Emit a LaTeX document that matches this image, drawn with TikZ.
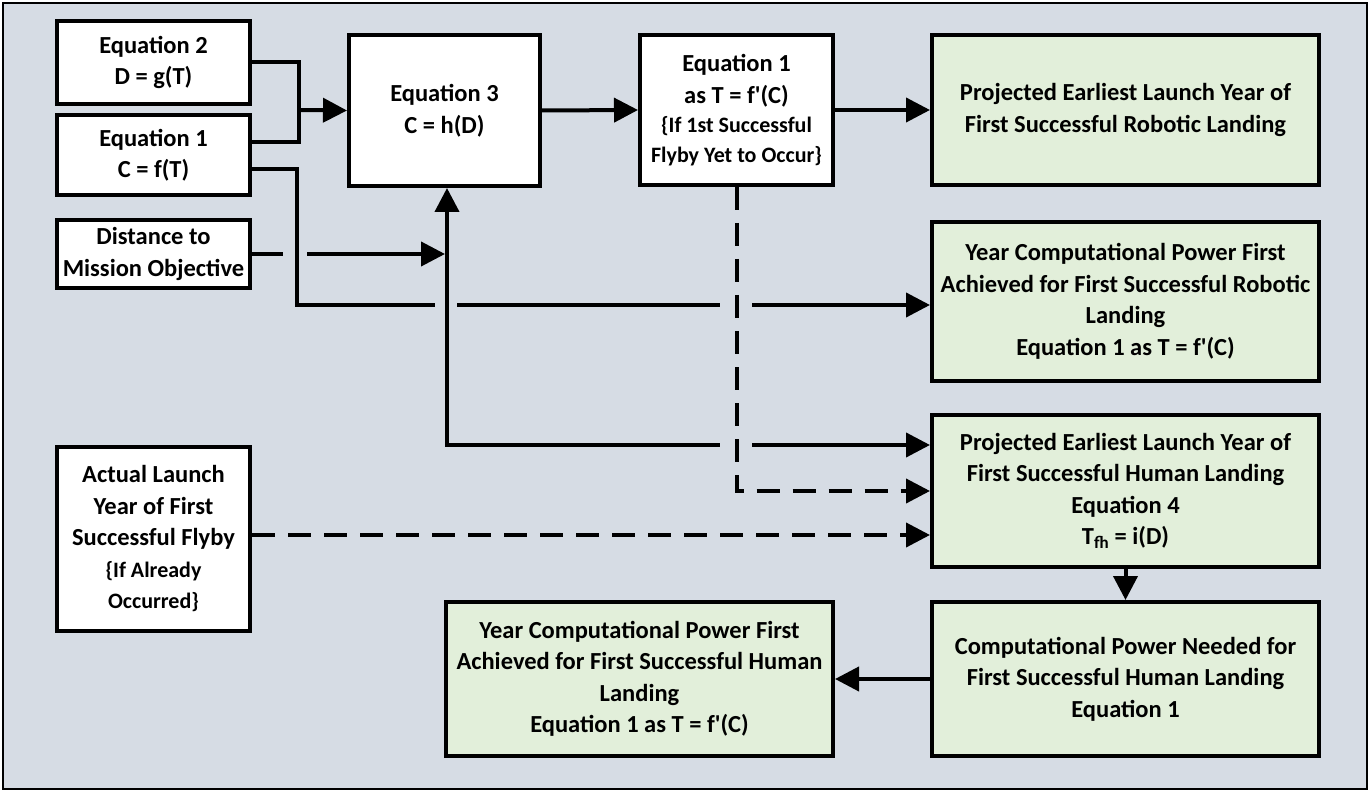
\documentclass[tikz,border=0pt]{standalone}
\usepackage{fontspec}
\setmainfont{Carlito}
\usepackage{tikz}
\usetikzlibrary{arrows.meta}
\definecolor{panel}{RGB}{214,220,228}
\definecolor{result}{RGB}{226,239,218}
\tikzstyle{eqbox}=[draw,line width=4pt,fill=white,align=center,inner sep=0pt,font=\bfseries\fontsize{24.5}{31.5}\selectfont]
\tikzstyle{resultbox}=[eqbox,fill=result,minimum width=387pt]
\tikzstyle{wire}=[line width=4pt,-{Triangle[length=24pt,width=24pt]}]
\tikzstyle{dashwire}=[wire,dash pattern=on 23pt off 13pt]
\tikzstyle{bridge}=[draw=panel,line width=9pt]
\newcommand{\smalltext}{\fontsize{22}{30}\selectfont}

\begin{document}
\begin{tikzpicture}[x=1pt,y=-1pt]
    \useasboundingbox (0,0) rectangle (1370,791);
    \draw[fill=panel,line width=1.5pt] (3,3) rectangle (1367,789);
%   inputs on the left
    \node[eqbox,minimum width=193pt,minimum height=83pt] (eq2) at (153.5,62.5) {Equation 2\\ D = g(T)};
    \node[eqbox,minimum width=193pt,minimum height=80pt] (eq1) at (153.5,155) {Equation 1\\ C = f(T)};
    \node[eqbox,minimum width=193pt,minimum height=68pt] (dist) at (153.5,254) {Distance to\\ Mission Objective};
    \node[eqbox,minimum width=193pt,minimum height=184pt] (flyby) at (153.5,539)
        {Actual Launch\\ Year of First\\ Successful Flyby\\ {\smalltext\{If Already}\\ {\smalltext Occurred\}}};
%   middle
    \node[eqbox,minimum width=191pt,minimum height=151pt] (eq3) at (444.5,110.5) {Equation 3\\ C = h(D)};
    \node[eqbox,minimum width=193pt,minimum height=150pt] (eq1inv) at (736.5,110)
        {Equation 1\\ as T = f\textquotesingle(C)\\[-2pt] {\smalltext\{If 1st Successful}\\[-2pt] {\smalltext Flyby Yet to Occur\}}};
%   results
    \node[resultbox,minimum height=150pt] (robland) at (1125.5,110) {Projected Earliest Launch Year of\\ First Successful Robotic Landing};
    \node[resultbox,minimum height=159pt] (robpower) at (1125.5,301.5)
        {Year Computational Power First\\ Achieved for First Successful Robotic\\ Landing\\ Equation 1 as T = f\textquotesingle(C)};
    \node[resultbox,minimum height=152pt] (humland) at (1125.5,491)
        {Projected Earliest Launch Year of\\ First Successful Human Landing\\ Equation 4\\ T\textsubscript{fh} = i(D)};
    \node[resultbox,minimum height=154pt] (humpower) at (1125.5,679)
        {Computational Power Needed for\\ First Successful Human Landing\\ Equation 1};
    \node[resultbox,minimum height=154pt] (humyear) at (639.5,679)
        {Year Computational Power First\\ Achieved for First Successful Human\\ Landing\\ Equation 1 as T = f\textquotesingle(C)};
    \coordinate (join) at (299,110);
    \coordinate (bend) at (297,305);
    \coordinate (riser) at (447,445);
	 \draw[wire,-] (eq2.east) -| (join) |- ([yshift=13pt]eq1.east);
	 \draw[wire] (join) -- (eq3.west);
	 \draw[wire] (dist.east) -- ([xshift=-2pt]dist.east -| riser);
	 \draw[bridge] (283,254) -- (307,254);
	 \draw[wire] ([yshift=-14pt]eq1.east) -| (bend) -- (bend -| robpower.west);
	 \draw[bridge] (435,305) -- (457,305);
	 \draw[bridge] (720,305) -- (752,305);
	 \draw[wire,{Triangle[length=24pt,width=24pt]}-{Triangle[length=24pt,width=24pt]}] (eq3.south -| riser) -- (riser) -- (riser -| humland.west);
	 \draw[bridge] (720,445) -- (752,445);
	 \draw[wire] (eq3.east) -- (eq1inv.west);
	 \draw[wire] (eq1inv.east) -- (robland.west);
	 \draw[dashwire] (eq1inv.south) |- (humland.west);
	 \draw[dashwire] ([yshift=4pt]flyby.east) -- ([yshift=4pt]flyby.east -| humland.west);
	 \draw[wire] (humland.south) -- (humpower.north);
	 \draw[wire] (humpower.west) -- (humyear.east);
\end{tikzpicture}
\end{document}
